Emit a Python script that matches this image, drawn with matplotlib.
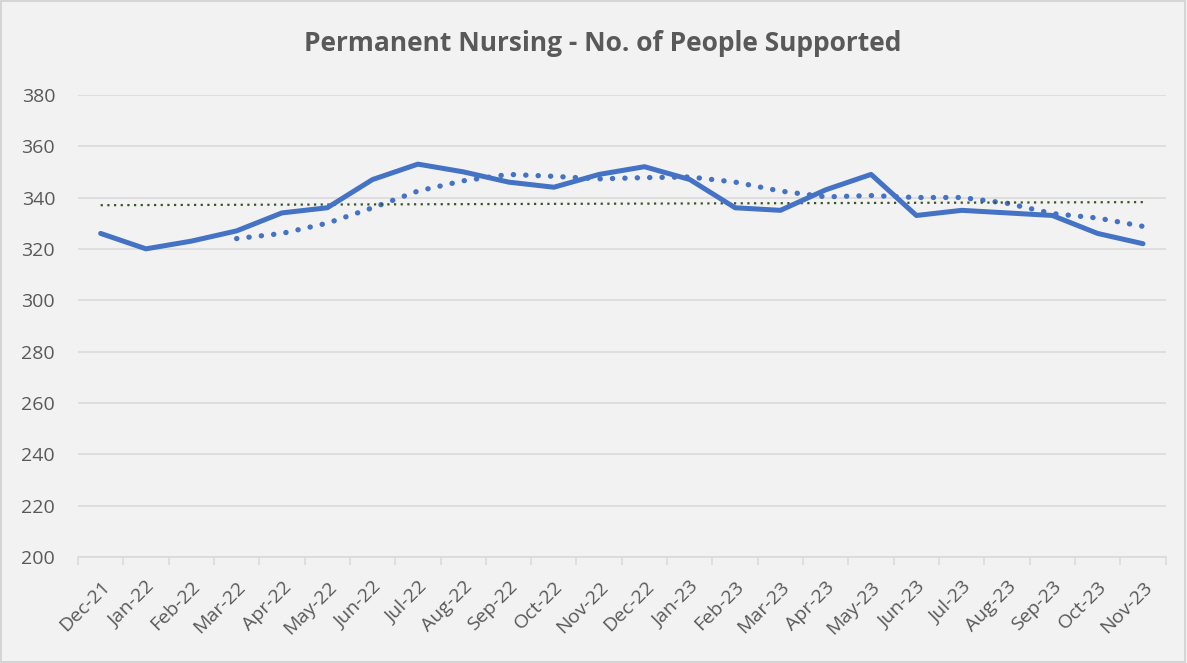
import matplotlib
matplotlib.use("Agg")
import matplotlib.pyplot as plt
import numpy as np

months = ["Dec-21", "Jan-22", "Feb-22", "Mar-22", "Apr-22", "May-22", "Jun-22", "Jul-22",
          "Aug-22", "Sep-22", "Oct-22", "Nov-22", "Dec-22", "Jan-23", "Feb-23", "Mar-23",
          "Apr-23", "May-23", "Jun-23", "Jul-23", "Aug-23", "Sep-23", "Oct-23", "Nov-23"]
people = [326, 320, 323, 327, 334, 336, 347, 353, 350, 346, 344, 349, 352, 347, 336, 335,
          343, 349, 333, 335, 334, 333, 326, 322]
# 4-month moving average (dotted blue), starting Mar-22
moving_avg = [324, 326, 330, 336, 342.5, 346.5, 349, 348.25, 347.25, 347.75, 348, 346,
              342.5, 340.25, 340.75, 340, 340, 337.75, 333.75, 332, 328.75]
ma_start = 3
# linear trend line (dotted green), endpoints
trend_ends = [337.0, 338.2]

plt.rcParams['font.family'] = ['Open Sans', 'DejaVu Sans']
bg = "#F2F2F2"
txt = "#595959"
grid = "#D9D9D9"

fig = plt.figure(figsize=(11.87, 6.63), dpi=100, facecolor=bg)
fig.patches.append(plt.Rectangle((0.001, 0.001), 0.997, 0.997, transform=fig.transFigure,
                                 fill=False, edgecolor="#D0D0D0", lw=1.2))
ax = fig.add_axes([0.0657, 0.16, 0.9163, 0.697])
ax.set_facecolor(bg)

x = np.arange(len(months))
ax.plot(x, people, color="#4472C4", lw=3.6, solid_joinstyle="round", solid_capstyle="round", zorder=4)
ax.plot(x[ma_start:ma_start + len(moving_avg)], moving_avg, color="#4472C4", lw=3.8,
        linestyle=(0, (0.05, 2.3)), dash_capstyle="round", zorder=3)
ax.plot([x[0], x[-1]], trend_ends, color="#375623", lw=1.6, linestyle=(0, (1, 2)), zorder=3)

ax.set_ylim(200, 380)
ax.set_xlim(-0.5, len(months) - 0.5)
ax.set_yticks(np.arange(200, 381, 20))
ax.yaxis.grid(True, color=grid, lw=1.1)
ax.set_axisbelow(True)
for s in ["top", "right", "left"]:
    ax.spines[s].set_visible(False)
ax.spines["bottom"].set_color(grid)
ax.spines["bottom"].set_linewidth(1.1)

ax.set_xticks(x)
ax.set_xticklabels(months, rotation=45, ha="right", rotation_mode="anchor")
ax.set_xticks(np.arange(-0.5, len(months), 1), minor=True)
ax.tick_params(axis="x", which="major", length=0, pad=15, labelsize=14, labelcolor=txt)
ax.tick_params(axis="x", which="minor", length=6, color=grid, width=1.1)
ax.tick_params(axis="y", length=0, pad=16.5, labelsize=14, labelcolor=txt)

fig.text(0.508, 0.935, "Permanent Nursing - No. of People Supported", ha="center", va="center",
         fontsize=19, fontweight="bold", color=txt)

fig.savefig("out.png", dpi=100, facecolor=bg)
